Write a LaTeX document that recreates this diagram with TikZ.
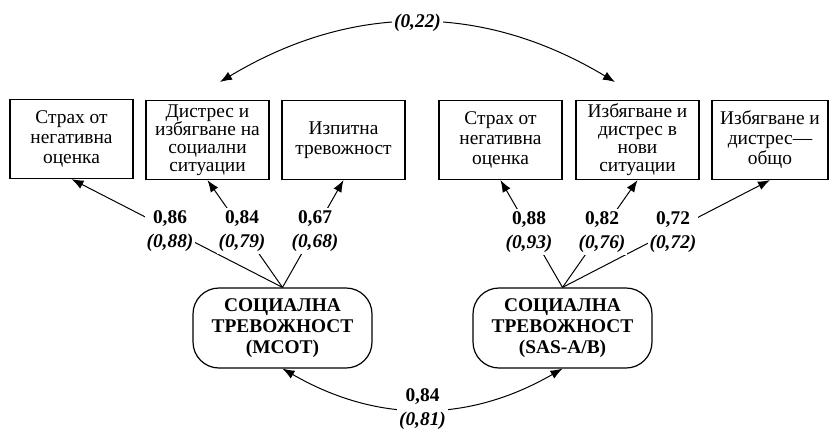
\documentclass[tikz,border=0pt]{standalone}
\usepackage{fontspec}
\setmainfont{Liberation Serif}
\usetikzlibrary{arrows.meta}

\tikzset{
  scalebox/.style={draw, line width=0.6pt, minimum width=61.5pt, minimum height=39.5pt,
    align=center, inner sep=0pt, font=\fontsize{9.7pt}{10pt}\selectfont},
  factor/.style={draw, line width=0.6pt, rounded corners=13pt, minimum width=89.5pt,
    minimum height=40pt, align=center, inner sep=0pt,
    font=\fontsize{9.7pt}{10.6pt}\selectfont\bfseries},
  loading/.style={fill=white, align=center, inner sep=1pt,
    font=\fontsize{9.7pt}{10.6pt}\selectfont\bfseries},
  link/.style={line width=0.5pt, -{Latex[length=6pt,width=4.5pt]}},
  corr/.style={line width=0.5pt, {Latex[length=6pt,width=4.5pt]}-{Latex[length=6pt,width=4.5pt]}},
}

\begin{document}
\begin{tikzpicture}[x=0.5pt,y=0.5pt]
        \useasboundingbox (0,0) rectangle (829,-429);

        \node[scalebox] (s1) at (71.5,-139) {Страх от\\негативна\\оценка};
        \node[scalebox] (s2) at (207.5,-140) {Дистрес и\\[-1pt]избягване на\\[-1pt]социални\\[-1pt]ситуации};
        \node[scalebox] (s3) at (343.5,-140) {Изпитна\\тревожност};
        \node[scalebox] (s4) at (500.5,-140) {Страх от\\негативна\\оценка};
        \node[scalebox] (s5) at (637.5,-140) {Избягване и\\[-1pt]дистрес в\\[-1pt]нови\\[-1pt]ситуации};
        \node[scalebox, minimum width=58pt] (s6) at (770,-140) {Избягване и\\дистрес—\\общо};

        \node[factor] (mcot) at (282.5,-328) {СОЦИАЛНА\\ТРЕВОЖНОСТ\\(МСОТ)};
        \node[factor] (sas) at (562.5,-328) {СОЦИАЛНА\\ТРЕВОЖНОСТ\\(SAS-A/B)};

        \foreach \s in {s1,s2,s3}
            \draw[link] (mcot.north) -- (\s.south);
        \foreach \s in {s4,s5,s6}
            \draw[link] (sas.north) -- (\s.south);

        \node[loading] (m1) at (170,-231) {0,86\\[1.4pt]\textit{(0,88)}};
        \node[loading] (m2) at (242,-231) {0,84\\[1.4pt]\textit{(0,79)}};
        \node[loading] (m3) at (315,-231) {0,67\\[1.4pt]\textit{(0,68)}};
        \node[loading] (a1) at (529,-232) {0,88\\[1.4pt]\textit{(0,93)}};
        \node[loading] (a2) at (602,-232) {0,82\\[1.4pt]\textit{(0,76)}};
        \node[loading] (a3) at (673,-232) {0,72\\[1.4pt]\textit{(0,72)}};

        \coordinate (tl) at (220,-82);
        \coordinate (tr) at (615,-82);
        \draw[corr] (tl) to[bend left=31] node[loading] (top) {\textit{(0,22)}} (tr);
        \draw[corr] (mcot.south) to[bend right=30] node[loading] (bot) {0,84\\[1.4pt]\textit{(0,81)}} (sas.south);
\end{tikzpicture}
\end{document}
